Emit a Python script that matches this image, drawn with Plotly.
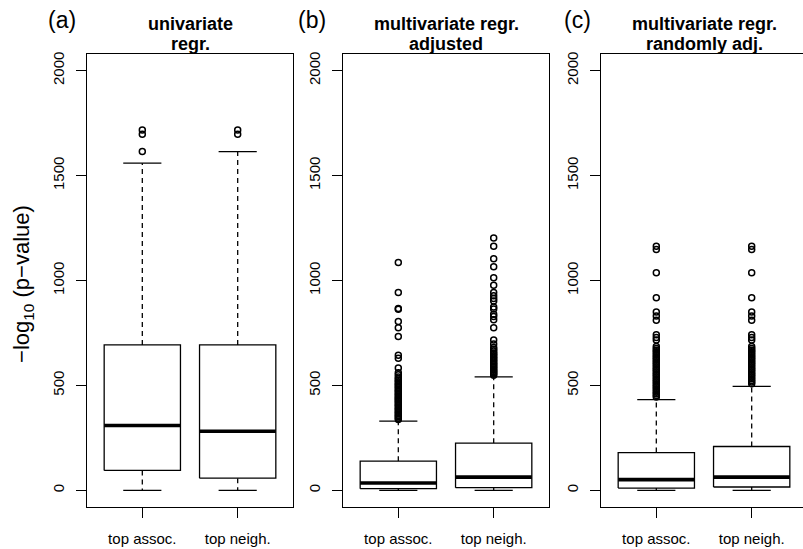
import plotly.graph_objects as go

W, H = 803, 549

categories = ["top assoc.", "top neigh."]
panel_tags = ["(a)", "(b)", "(c)"]
panel_titles = [["univariate", "regr."],
                ["multivariate regr.", "adjusted"],
                ["multivariate regr.", "randomly adj."]]
y_ticks = [0, 500, 1000, 1500, 2000]

# box statistics: [lower whisker, Q1, median, Q3, upper whisker]
a_assoc_stats = [0, 95, 309, 693, 1559]
a_neigh_stats = [0, 58, 282, 693, 1614]
b_assoc_stats = [0, 8, 35, 139, 330]
b_neigh_stats = [0, 13, 63, 225, 541]
c_assoc_stats = [0, 11, 51, 180, 432]
c_neigh_stats = [0, 16, 63, 209, 495]

a_assoc_out = [1614, 1697, 1717]
a_neigh_out = [1697, 1717]
b_assoc_out = [1086, 943, 867, 863, 804, 775, 733, 644, 630, 583, 560, 551, 540,
               532, 525, 518, 510, 503, 497, 490, 483, 476, 470, 463, 456, 450,
               443, 437, 430, 424, 417, 410, 404, 397, 390, 384, 377, 370, 364,
               357, 351, 344, 338]
b_neigh_out = [1203, 1163, 1103, 1065, 1013, 977, 943, 927, 914, 902, 874, 864,
               839, 828, 813, 775, 716, 697, 681, 672, 664, 655, 648, 640, 633,
               626, 619, 612, 605, 598, 591, 585, 578, 572, 566, 560, 554, 548]
c_assoc_out = [1163, 1148, 1037, 918, 850, 831, 810, 741, 728, 716, 685, 676,
               668, 660, 652, 644, 636, 628, 620, 612, 604, 596, 588, 580, 572,
               564, 556, 548, 540, 532, 524, 516, 508, 500, 492, 484, 476, 468,
               460, 452, 445]
c_neigh_out = [1163, 1148, 1037, 918, 850, 831, 810, 741, 728, 716, 685, 676,
               668, 660, 652, 644, 636, 628, 620, 612, 604, 596, 588, 580, 572,
               564, 556, 548, 540, 532, 524, 516, 508]

panels = [
    [(a_assoc_stats, a_assoc_out), (a_neigh_stats, a_neigh_out)],
    [(b_assoc_stats, b_assoc_out), (b_neigh_stats, b_neigh_out)],
    [(c_assoc_stats, c_assoc_out), (c_neigh_stats, c_neigh_out)],
]

FONT = "Liberation Sans, Arial, Helvetica, sans-serif"
LW = 1.3
half_box = 0.4
half_cap = 0.2

# pixel layout of plot frames
frame_left = [87, 343, 601]
frame_w = 206
frame_top, frame_bottom = 52, 507
x_lo, x_hi = 0.42, 2.58
px_per_unit = frame_w / (x_hi - x_lo)

fig = go.Figure()

for p, boxes in enumerate(panels):
    xr = "x" if p == 0 else f"x{p+1}"
    yr = "y" if p == 0 else f"y{p+1}"
    for i, (st, out) in enumerate(boxes):
        xc = i + 1
        lo, q1, med, q3, hi = st
        # whiskers (dashed)
        fig.add_trace(go.Scatter(x=[xc, xc, None, xc, xc], y=[q3, hi, None, q1, lo],
                                 mode="lines", line=dict(color="black", width=LW, dash="5px,4px"),
                                 xaxis=xr, yaxis=yr, showlegend=False, hoverinfo="skip"))
        # caps
        fig.add_trace(go.Scatter(x=[xc - half_cap, xc + half_cap, None, xc - half_cap, xc + half_cap],
                                 y=[hi, hi, None, lo, lo], mode="lines",
                                 line=dict(color="black", width=LW),
                                 xaxis=xr, yaxis=yr, showlegend=False, hoverinfo="skip"))
        # box
        fig.add_trace(go.Scatter(x=[xc - half_box, xc + half_box, xc + half_box, xc - half_box, xc - half_box],
                                 y=[q1, q1, q3, q3, q1], mode="lines", fill="toself",
                                 fillcolor="white", line=dict(color="black", width=LW),
                                 xaxis=xr, yaxis=yr, showlegend=False, hoverinfo="skip"))
        # median
        fig.add_trace(go.Scatter(x=[xc - half_box, xc + half_box], y=[med, med], mode="lines",
                                 line=dict(color="black", width=3.6),
                                 xaxis=xr, yaxis=yr, showlegend=False, hoverinfo="skip"))
        # outliers
        fig.add_trace(go.Scatter(x=[xc] * len(out), y=out, mode="markers",
                                 marker=dict(symbol="circle-open", size=6, color="black",
                                             line=dict(width=1.5, color="black")),
                                 xaxis=xr, yaxis=yr, showlegend=False, hoverinfo="skip"))

layout = dict(
    width=W, height=H, margin=dict(l=0, r=0, t=0, b=0),
    paper_bgcolor="white", plot_bgcolor="white",
    font=dict(family=FONT, color="black", size=15),
    showlegend=False,
)

ydom = [1 - frame_bottom / H, 1 - frame_top / H]
for p in range(3):
    left = frame_left[p]
    right = min(left + frame_w, W)
    xhi = x_lo + (right - left) / px_per_unit
    suffix = "" if p == 0 else str(p + 1)
    layout["xaxis" + suffix] = dict(
        domain=[left / W, right / W], range=[x_lo, xhi], anchor="y" + suffix,
        tickmode="array", tickvals=[1, 2], ticktext=categories,
        ticks="outside", ticklen=10, tickwidth=LW, tickcolor="black",
        showline=True, linecolor="black", linewidth=LW, mirror=True,
        showgrid=False, zeroline=False, tickfont=dict(size=15),
        ticklabelstandoff=8, fixedrange=True,
    )
    layout["yaxis" + suffix] = dict(
        domain=ydom, range=[-80, 2080], anchor="x" + suffix,
        tickmode="array", tickvals=y_ticks, ticktext=[str(v) for v in y_ticks],
        ticks="outside", ticklen=10, tickwidth=LW, tickcolor="black",
        showline=True, linecolor="black", linewidth=LW, mirror=(p < 2),
        showgrid=False, zeroline=False, tickangle=-90, tickfont=dict(size=15),
        ticklabelstandoff=6, fixedrange=True,
    )

annotations = []
tag_x = [62, 312, 577]
for p in range(3):
    left = frame_left[p]
    cx = left + frame_w / 2
    annotations.append(dict(x=tag_x[p] / W, y=1 - 18 / H, xref="paper", yref="paper",
                            text=panel_tags[p], showarrow=False, xanchor="center", yanchor="middle",
                            font=dict(size=23, family=FONT)))
    for li, line in enumerate(panel_titles[p]):
        annotations.append(dict(x=cx / W, y=1 - (22 + 20 * li) / H, xref="paper", yref="paper",
                                text="<b>" + line + "</b>", showarrow=False,
                                xanchor="center", yanchor="middle",
                                font=dict(size=18, family=FONT)))
annotations.append(dict(x=23 / W, y=1 - 283 / H, xref="paper", yref="paper",
                        text="\u2212log<sub>10</sub> (p\u2212value)", showarrow=False,
                        textangle=-90, xanchor="center", yanchor="middle",
                        font=dict(size=22, family=FONT)))
layout["annotations"] = annotations

fig.update_layout(**layout)
fig.write_html("out.html")
